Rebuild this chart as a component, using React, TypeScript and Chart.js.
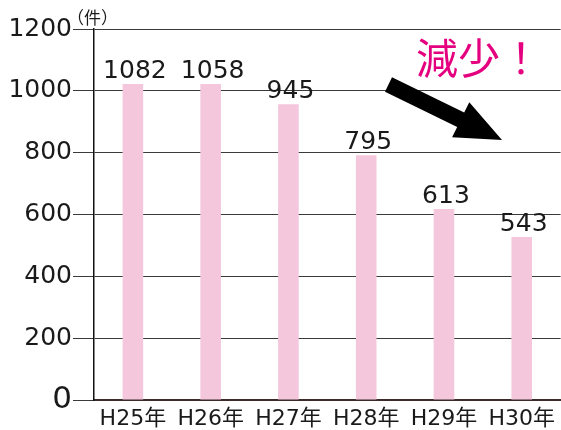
import React, { useEffect, useRef } from "react";
import { Chart, registerables } from "chart.js";

Chart.register(...registerables);

const categories = ["H25年", "H26年", "H27年", "H28年", "H29年", "H30年"];
// printed counts above each bar
const countLabels = ["1082", "1058", "945", "795", "613", "543"];
// bar heights as drawn in the picture
const barHeights = [1022, 1022, 957, 792, 618, 527];
const yTicks = [0, 200, 400, 600, 800, 1000, 1200];
const unitLabel = "（件）";
const calloutText = "減少！";

const FONT = '"DejaVu Sans", "Noto Sans CJK JP", sans-serif';
const CJK = '"Noto Sans CJK JP", sans-serif';

const decorPlugin = {
  id: "decor",
  afterDatasetsDraw(chart: any) {
    const ctx = chart.ctx;
    const meta = chart.getDatasetMeta(0);
    const area = chart.chartArea;
    ctx.save();
    // value labels
    ctx.fillStyle = "#1a1a1a";
    ctx.font = `25px ${FONT}`;
    ctx.textAlign = "center";
    ctx.textBaseline = "alphabetic";
    meta.data.forEach((bar: any, i: number) => {
      ctx.fillText(countLabels[i], bar.x + 2, bar.y - 6);
    });
    // unit label
    ctx.font = `17px ${CJK}`;
    ctx.textAlign = "left";
    ctx.textBaseline = "middle";
    ctx.fillText(unitLabel, area.left - 27, 18);
    // callout text
    ctx.fillStyle = "#E4007F";
    ctx.font = `42px ${CJK}`;
    ctx.textBaseline = "middle";
    ctx.fillText(calloutText, area.left + 322, 58);
    // arrow
    const ox = area.left, oy = area.top;
    const pts = [
      [392, 77.3], [464.2, 112.5], [469.3, 102.2], [502, 140],
      [452.1, 137.2], [457.2, 126.9], [385, 91.7],
    ];
    ctx.fillStyle = "#000";
    ctx.beginPath();
    pts.forEach(([x, y], i) => {
      const px = ox + (x - 94);
      const py = oy + (y - 29);
      if (i === 0) ctx.moveTo(px, py);
      else ctx.lineTo(px, py);
    });
    ctx.closePath();
    ctx.fill();
    ctx.restore();
  },
};

export default function App() {
  const ref = useRef<HTMLCanvasElement>(null);
  useEffect(() => {
    const chart = new Chart(ref.current!, {
      type: "bar",
      data: {
        labels: categories,
        datasets: [
          {
            data: barHeights,
            backgroundColor: "#F4C7DC",
            borderWidth: 0,
            barPercentage: 0.265,
            categoryPercentage: 1,
          },
        ],
      },
      options: {
        animation: false,
        responsive: false,
        maintainAspectRatio: false,
        layout: { padding: { top: 29, left: 0, right: 0, bottom: 0 } },
        plugins: { legend: { display: false }, tooltip: { enabled: false } },
        scales: {
          x: {
            grid: { display: false, drawTicks: false },
            border: { display: true, color: "#3b2a2a", width: 2 },
            ticks: {
              color: "#1a1a1a",
              font: { family: FONT, size: 22 },
              padding: 6,
              maxRotation: 0,
            },
            afterFit: (s: any) => {
              s.height = 30;
            },
          },
          y: {
            min: 0,
            max: 1200,
            afterBuildTicks: (s: any) => {
              s.ticks = yTicks.map((v) => ({ value: v }));
            },
            grid: {
              color: "#3a3a3a",
              lineWidth: 1,
              tickLength: 21,
              tickColor: "#3a3a3a",
            },
            border: { display: true, color: "#111", width: 1.5 },
            ticks: {
              color: "#1a1a1a",
              padding: 1,
              callback: (v: any) => String(v),
              font: (c: any) => ({
                family: FONT,
                size: c.tick && c.tick.value === 0 ? 31 : 25,
              }),
            },
            afterFit: (s: any) => {
              s.width = 94;
            },
          },
        },
      },
      plugins: [decorPlugin],
    });
    return () => chart.destroy();
  }, []);
  return (
    <div style={{ position: "fixed", left: 0, top: 0, width: 561, height: 430, background: "#fff" }}>
      <canvas ref={ref} width={561} height={430} style={{ width: 561, height: 430 }} />
    </div>
  );
}
